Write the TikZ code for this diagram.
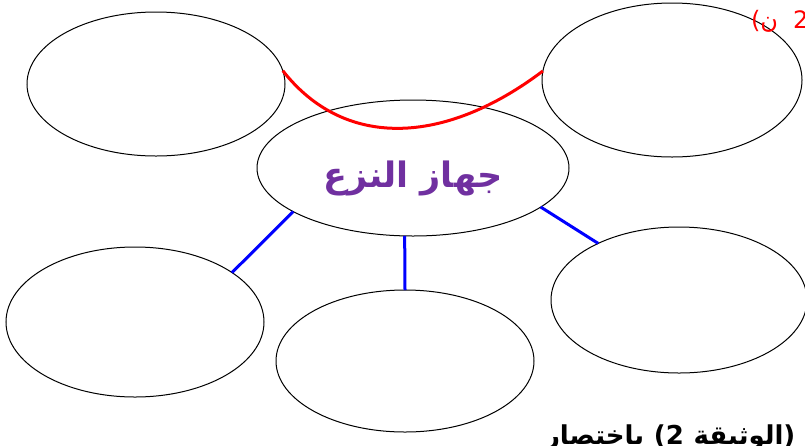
\documentclass[tikz,border=0pt]{standalone}
\usepackage{fontspec}
\usetikzlibrary{shapes.geometric}
\newfontfamily\arabicfont[Script=Arabic]{DejaVu Sans}
\newfontfamily\latinfont{DejaVu Sans}
\TeXXeTstate=1
\definecolor{myred}{RGB}{255,0,0}
\definecolor{myblue}{RGB}{0,0,255}
\definecolor{mypurple}{RGB}{112,48,160}
\begin{document}
\begin{tikzpicture}[x=1pt,y=-1pt,
  bubble/.style={ellipse,draw=black,line width=1pt,inner sep=0pt,outer sep=0pt},
  blueline/.style={draw=myblue,line width=3pt},
  redline/.style={draw=myred,line width=3pt},
  lbl/.style={inner sep=0pt,outer sep=0pt}]
\useasboundingbox (0,0) rectangle (805,445);
\clip (0,0) rectangle (805,445);
\node[bubble,minimum width=258pt,minimum height=144pt] (tl) at (156,84) {};
\node[bubble,minimum width=260pt,minimum height=154pt] (tr) at (672,80) {};
\node[bubble,minimum width=312pt,minimum height=136pt] (c) at (413,168) {};
\node[bubble,minimum width=258pt,minimum height=150pt] (bl) at (135,322) {};
\node[bubble,minimum width=258pt,minimum height=142pt] (bm) at (405,361) {};
\node[bubble,minimum width=256pt,minimum height=146pt] (br) at (679,300) {};
\draw[blueline] (c.200) -- (bl.27);
\draw[blueline] (c.263) -- (bm.90);
\draw[blueline] (c.343) -- (br.145);
\draw[redline] (tl.6) .. controls (345,150) and (445,145) .. (tr.176);
\node[lbl,text=mypurple,font=\arabicfont\bfseries\fontsize{35}{40}\selectfont] (ct) at (413,178) {\beginR جهاز النزع\endR};
\node[lbl,text=myred,anchor=base west,font=\fontsize{24}{28}\selectfont] (pts) at (751,28) {{\latinfont(}{\arabicfont\beginR ن\endR}{\latinfont\ \ 2)}};
\node[lbl,text=black,anchor=base west,font=\bfseries\fontsize{26}{30}\selectfont] (doc) at (545,444) {{\arabicfont\bfseries\beginR باختصار\endR} {\latinfont\bfseries(2} {\arabicfont\bfseries\beginR الوثيقة\endR}{\latinfont\bfseries)}};
\end{tikzpicture}
\end{document}
